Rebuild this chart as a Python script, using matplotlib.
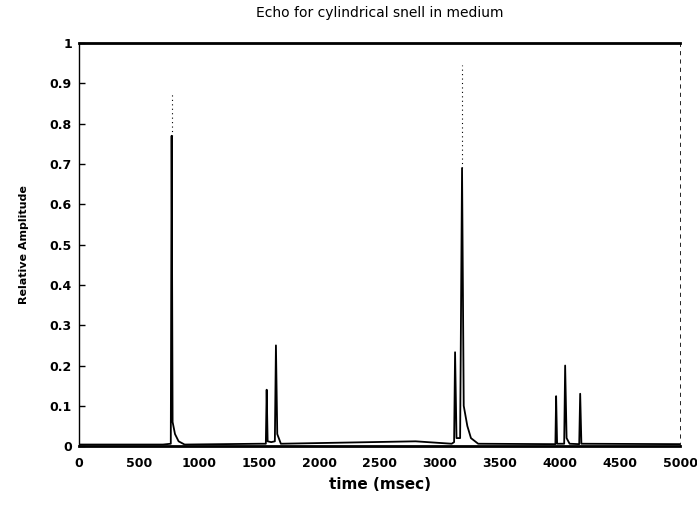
import matplotlib.pyplot as plt

# echo trace (time in msec, relative amplitude)
t = [0, 700, 765, 772, 780, 800, 830, 880,
     1500, 1555, 1562, 1570, 1600, 1630, 1639, 1650, 1680,
     2800, 3100, 3120, 3128, 3140, 3170, 3186, 3200, 3230, 3260, 3320,
     3950, 3962, 3968, 3976, 4035, 4043, 4055, 4080, 4160, 4168, 4178, 5000]
amp = [0.004, 0.004, 0.006, 0.77, 0.06, 0.03, 0.012, 0.004,
       0.006, 0.006, 0.14, 0.012, 0.01, 0.012, 0.25, 0.03, 0.006,
       0.012, 0.006, 0.01, 0.233, 0.02, 0.02, 0.69, 0.1, 0.05, 0.02, 0.006,
       0.005, 0.005, 0.124, 0.006, 0.006, 0.2, 0.02, 0.006, 0.005, 0.13, 0.006, 0.005]

# faint (dotted) continuation of the two big spikes
spike_t = [772, 3186]
spike_lo = [0.77, 0.69]
spike_hi = [0.876, 0.945]

fig = plt.figure(figsize=(6.97, 5.07), dpi=100)
ax = fig.add_axes([0.113, 0.12, 0.863, 0.795])

ax.plot(t, amp, color='black', lw=1.3)
ax.vlines(spike_t, spike_lo, spike_hi, colors='black', lw=0.8, linestyles=(0, (1, 3)))

ax.set_xlim(0, 5000)
ax.set_ylim(0, 1)
ax.set_xticks(range(0, 5001, 500))
ax.set_yticks([i / 10 for i in range(11)])
ax.set_yticklabels(['0', '0.1', '0.2', '0.3', '0.4', '0.5', '0.6', '0.7', '0.8', '0.9', '1'])

for lbl in ax.get_xticklabels() + ax.get_yticklabels():
    lbl.set_fontweight('bold')
    lbl.set_fontsize(9)

ax.tick_params(axis='y', direction='in', length=4, width=1, pad=5)
ax.tick_params(axis='x', length=0, pad=8)

ax.spines['top'].set_linewidth(2)
ax.spines['bottom'].set_linewidth(2)
ax.spines['left'].set_linewidth(1)
ax.spines['right'].set_linewidth(0.6)
ax.spines['right'].set_linestyle((0, (4, 6)))

ax.set_title('Echo for cylindrical snell in medium', fontsize=10, pad=19)
ax.set_ylabel('Relative Amplitude', fontsize=8, fontweight='bold', labelpad=15)
ax.set_xlabel('time (msec)', fontsize=11, fontweight='bold', labelpad=5)

fig.savefig('out.png', dpi=100)
